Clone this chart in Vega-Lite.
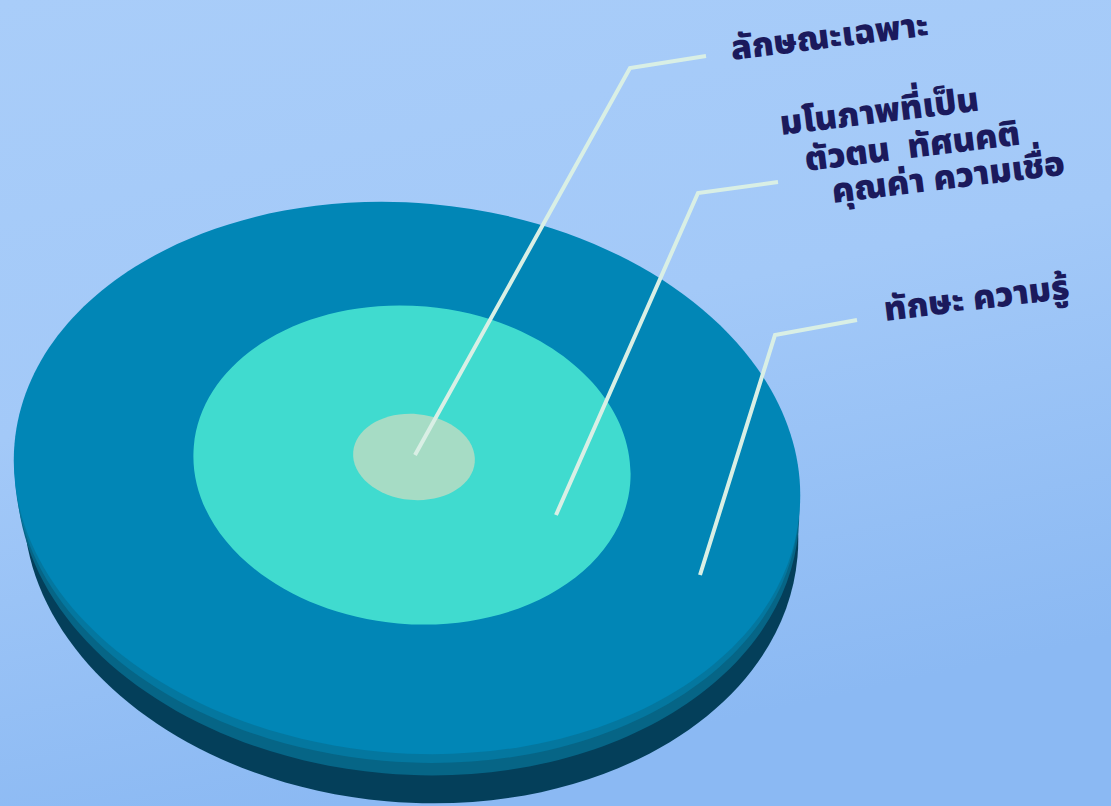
{
  "$schema": "https://vega.github.io/schema/vega-lite/v6.json",
  "width": 1111,
  "height": 806,
  "autosize": {"type": "fit", "contains": "padding"},
  "padding": 0,
  "background": "#a3c9f7",
  "config": {"view": {"stroke": null}},
  "datasets": {
    "rings": [
      {"ring": "side", "cx": 411, "cy": 523, "a": 388},
      {"ring": "bevel", "cx": 408, "cy": 496, "a": 392},
      {"ring": "bevel2", "cx": 407, "cy": 486, "a": 393},
      {"ring": "top", "cx": 407, "cy": 478, "a": 394},
      {"ring": "middle", "cx": 412, "cy": 465, "a": 219},
      {"ring": "inner", "cx": 414, "cy": 457, "a": 61}
    ],
    "leaders": [
      {"line": 1, "seq": 0, "x": 706, "y": 56},
      {"line": 1, "seq": 1, "x": 630, "y": 68},
      {"line": 1, "seq": 2, "x": 415, "y": 455},
      {"line": 2, "seq": 0, "x": 778, "y": 182},
      {"line": 2, "seq": 1, "x": 698, "y": 193},
      {"line": 2, "seq": 2, "x": 556, "y": 515},
      {"line": 3, "seq": 0, "x": 857, "y": 320},
      {"line": 3, "seq": 1, "x": 775, "y": 335},
      {"line": 3, "seq": 2, "x": 700, "y": 575}
    ],
    "labels": [
      {"text": "ลักษณะเฉพาะ", "x": 731, "y": 50},
      {"text": "มโนภาพที่เป็น", "x": 780, "y": 125},
      {"text": "ตัวตน\u00a0\u00a0ทัศนคติ", "x": 805, "y": 161},
      {"text": "คุณค่า ความเชื่อ", "x": 832, "y": 193},
      {"text": "ทักษะ ความรู้", "x": 884, "y": 311}
    ]
  },
  "layer": [
    {
      "data": {"values": [{}]},
      "mark": {
        "type": "rect",
        "color": {
          "gradient": "linear",
          "x1": 0, "y1": 0, "x2": 0.3, "y2": 1,
          "stops": [
            {"offset": 0, "color": "#a9cdf9"},
            {"offset": 0.5, "color": "#a3c9f8"},
            {"offset": 1, "color": "#8bb9f3"}
          ]
        }
      },
      "encoding": {
        "x": {"datum": 0, "type": "quantitative", "scale": {"domain": [0, 1111], "nice": false, "zero": false}, "axis": null},
        "x2": {"datum": 1111},
        "y": {"datum": 0, "type": "quantitative", "scale": {"domain": [0, 806], "nice": false, "zero": false, "reverse": true}, "axis": null},
        "y2": {"datum": 806}
      }
    },
    {
      "data": {"name": "rings"},
      "mark": {"type": "point", "filled": true, "opacity": 1, "strokeWidth": 0, "angle": 5},
      "encoding": {
        "x": {"field": "cx", "type": "quantitative", "scale": {"domain": [0, 1111], "nice": false, "zero": false}, "axis": null},
        "y": {"field": "cy", "type": "quantitative", "scale": {"domain": [0, 806], "nice": false, "zero": false, "reverse": true}, "axis": null},
        "size": {"field": "a", "type": "quantitative", "scale": {"type": "pow", "exponent": 2, "domain": [0, 400], "range": [0, 640000]}, "legend": null},
        "shape": {
          "field": "ring", "type": "nominal",
          "scale": {
            "domain": ["side", "bevel", "bevel2", "top", "middle", "inner"],
            "range": [
              "M1,0C1,0.3977,0.5523,0.72,0,0.72C-0.5523,0.72,-1,0.3977,-1,0C-1,-0.3977,-0.5523,-0.72,0,-0.72C0.5523,-0.72,1,-0.3977,1,0Z",
              "M1,0C1,0.3921,0.5523,0.71,0,0.71C-0.5523,0.71,-1,0.3921,-1,0C-1,-0.3921,-0.5523,-0.71,0,-0.71C0.5523,-0.71,1,-0.3921,1,0Z",
              "M1,0C1,0.3877,0.5523,0.702,0,0.702C-0.5523,0.702,-1,0.3877,-1,0C-1,-0.3877,-0.5523,-0.702,0,-0.702C0.5523,-0.702,1,-0.3877,1,0Z",
              "M1,0C1,0.3855,0.5523,0.698,0,0.698C-0.5523,0.698,-1,0.3855,-1,0C-1,-0.3855,-0.5523,-0.698,0,-0.698C0.5523,-0.698,1,-0.3855,1,0Z",
              "M1,0C1,0.401,0.5523,0.726,0,0.726C-0.5523,0.726,-1,0.401,-1,0C-1,-0.401,-0.5523,-0.726,0,-0.726C0.5523,-0.726,1,-0.401,1,0Z",
              "M1,0C1,0.3894,0.5523,0.705,0,0.705C-0.5523,0.705,-1,0.3894,-1,0C-1,-0.3894,-0.5523,-0.705,0,-0.705C0.5523,-0.705,1,-0.3894,1,0Z"
            ]
          },
          "legend": null
        },
        "color": {
          "field": "ring", "type": "nominal",
          "scale": {
            "domain": ["side", "bevel", "bevel2", "top", "middle", "inner"],
            "range": ["#043f5a", "#066586", "#04779f", "#0186b6", "#40dbcf", "#a6dcc5"]
          },
          "legend": null
        }
      }
    },
    {
      "data": {"name": "leaders"},
      "mark": {"type": "line", "color": "#d9efe5", "strokeWidth": 4, "strokeCap": "butt", "strokeJoin": "miter"},
      "encoding": {
        "x": {"field": "x", "type": "quantitative", "scale": {"domain": [0, 1111], "nice": false, "zero": false}, "axis": null},
        "y": {"field": "y", "type": "quantitative", "scale": {"domain": [0, 806], "nice": false, "zero": false, "reverse": true}, "axis": null},
        "detail": {"field": "line", "type": "nominal"},
        "order": {"field": "seq", "type": "quantitative"}
      }
    },
    {
      "data": {"name": "labels"},
      "mark": {
        "type": "text",
        "align": "left",
        "baseline": "middle",
        "angle": -7,
        "font": "Noto Sans Thai, Noto Sans, DejaVu Sans, sans-serif",
        "fontWeight": 900,
        "fontSize": 34,
        "color": "#1b1a5c"
      },
      "encoding": {
        "x": {"field": "x", "type": "quantitative", "scale": {"domain": [0, 1111], "nice": false, "zero": false}, "axis": null},
        "y": {"field": "y", "type": "quantitative", "scale": {"domain": [0, 806], "nice": false, "zero": false, "reverse": true}, "axis": null},
        "text": {"field": "text", "type": "nominal"}
      }
    }
  ]
}
